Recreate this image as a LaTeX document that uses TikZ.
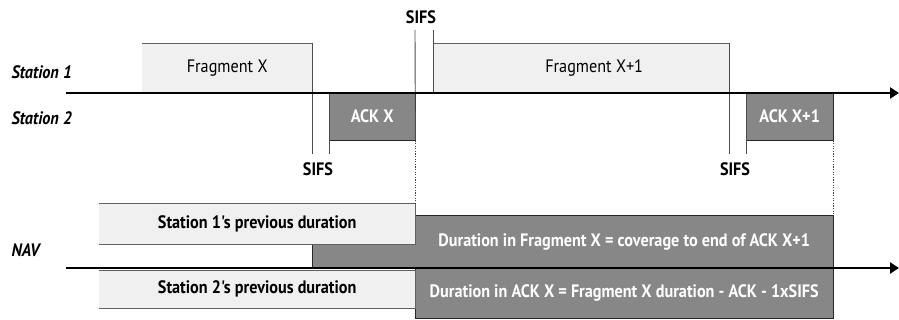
\documentclass[tikz,border=0pt]{standalone}
\usepackage{fontspec}
\setsansfont{PT Sans}
\newfontfamily\condfont[FakeStretch=0.9]{PT Sans}
\usetikzlibrary{arrows.meta}

\begin{document}
\begin{tikzpicture}[x=1pt, y=-1pt,
  font=\condfont\fontsize{18}{20}\selectfont,
  lightbox/.style={fill=gray!12, inner sep=0pt, anchor=north west},
  darkbox/.style={fill=black!47, text=white, inner sep=0pt, anchor=north west,
    font=\condfont\bfseries\fontsize{18}{20}\selectfont},
  edge/.style={draw=gray!75!black, line width=0.9pt},
  rim/.style={draw=black!85, line width=0.9pt},
  axis/.style={line width=2.6pt, -{Triangle[length=9pt,width=11pt]}},
  tick/.style={draw=black!70, line width=0.9pt},
  gap/.style={draw=black!75, line width=1.3pt, dash pattern=on 1.3pt off 1.3pt},
  lane/.style={font=\condfont\bfseries\itshape\fontsize{18}{20}\selectfont, anchor=west},
  sifs/.style={font=\condfont\bfseries\fontsize{18}{20}\selectfont}
]
\useasboundingbox (0,0) rectangle (899,320);

% station time lines
\coordinate (t1start) at (66,93);
\coordinate (t1end) at (899,93);
\coordinate (navstart) at (66,268);
\coordinate (navend) at (899,268);

% frames on the air
\node[lightbox, minimum width=170pt, minimum height=50pt] (fragx) at (142,43) {Fragment X};
\node[darkbox, minimum width=86pt, minimum height=47pt] (ackx) at (329,93) {ACK X};
\node[lightbox, minimum width=296pt, minimum height=50pt] (fragy) at (433,43) {\hspace*{26pt}Fragment X+1};
\node[darkbox, minimum width=87pt, minimum height=47pt] (acky) at (746,93) {ACK X+1};

\draw[edge] (fragx.north west) -- (fragx.north east);
\draw[edge] (fragy.north west) -- (fragy.north east);
\draw[rim] (ackx.north west) rectangle (ackx.south east);
\draw[rim] (acky.north west) rectangle (acky.south east);

% SIFS marks
\coordinate (sifsa) at (415,30);
\coordinate (sifsb) at (433,30);
\draw[tick] (fragx.north east) -- ++(0,111) coordinate (fragxend);
\draw[tick] (ackx.north west) -- ++(0,61) coordinate (ackxend);
\draw[tick] (fragy.north east) -- ++(0,111) coordinate (fragyend);
\draw[tick] (acky.north west) -- ++(0,61) coordinate (ackyend);
\draw[tick] (sifsa) -- (ackx.south east);
\draw[tick] (sifsb) -- (fragy.south west);

\node[sifs] (sifstop) at (421,17) {SIFS};
\node[sifs] (sifsx) at (318,169) {SIFS};
\node[sifs] (sifsy) at (735,169) {SIFS};

% NAV durations
\fill[black!47] (312,244) rectangle (415,268);
\node[darkbox, minimum width=418pt, minimum height=53pt] (navfrag) at (415,215)
  {Duration in Fragment X = coverage to end of ACK X+1};
\node[darkbox, minimum width=418pt, minimum height=50pt] (navack) at (415,268)
  {Duration in ACK X = Fragment X duration - ACK - 1xSIFS};
\draw[rim] (312,268) -- (312,244);
\draw[rim] (navfrag.north west) -- (navfrag.north east) -- (navfrag.south east);
\draw[rim] (navack.north west) rectangle (navack.south east);

\node[lightbox, font=\condfont\bfseries\fontsize{18}{20}\selectfont,
  minimum width=316pt, minimum height=41pt] (s1prev) at (99,203) {Station 1's previous duration};
\node[lightbox, font=\condfont\bfseries\fontsize{18}{20}\selectfont,
  minimum width=316pt, minimum height=38pt] (s2prev) at (99,270) {Station 2's previous duration};
\draw[edge] (s1prev.north west) -- (s1prev.north east) -- (s1prev.south east) -- (s1prev.south west);
\draw[edge] (s2prev.north west) -- (s2prev.north east) -- (s2prev.south east) -- (s2prev.south west);

% dotted drops to the NAV
\draw[gap] (ackx.south east) -- (s1prev.north east);
\draw[gap] (acky.south east) -- (navfrag.north east);

\draw[axis] (t1start) -- (t1end);
\draw[axis] (navstart) -- (navend);

\node[lane] (st1) at (8,72) {Station 1};
\node[lane] (st2) at (8,118) {Station 2};
\node[lane] (nav) at (8,250) {NAV};
\end{tikzpicture}
\end{document}
